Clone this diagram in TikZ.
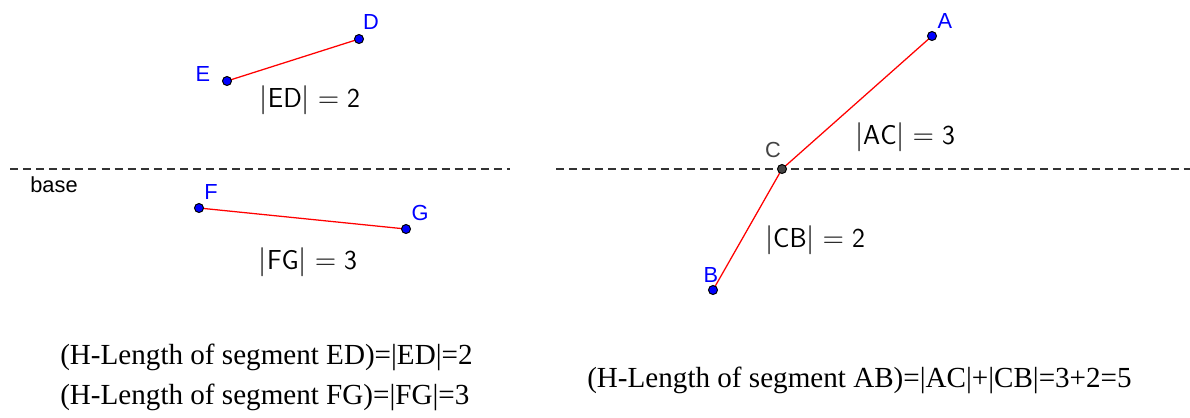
\documentclass[tikz,border=0pt]{standalone}
\usepackage{amsmath, amssymb}
\usepackage{fontspec}
\newfontfamily\ptfont{Liberation Sans}
\newfontfamily\capfont{Liberation Serif}
\usepackage{tikz}
\usetikzlibrary{positioning, backgrounds}
\definecolor{ptblue}{HTML}{0000FF}
\definecolor{segred}{HTML}{FF0000}
\definecolor{basegray}{HTML}{333333}
\definecolor{ptgray}{HTML}{444444}

\tikzset{
    gpoint/.style={circle, fill=ptblue, draw=black, line width=0.7pt, inner sep=0pt, minimum size=6.4pt},
    gname/.style={text=ptblue, font=\ptfont\fontsize{15.5}{18}\selectfont, inner sep=0pt},
    seg/.style={segred, line width=0.9pt},
    baseline/.style={basegray, line width=1pt, dash pattern=on 5.7pt off 3.6pt},
    measure/.style={font=\fontsize{19.5}{23}\selectfont, inner sep=0pt},
    caption/.style={font=\capfont\fontsize{20.7}{24}\selectfont, inner sep=0pt, anchor=base west}
}

\begin{document}
\begin{tikzpicture}[x=0.025cm, y=-0.025cm]
    \useasboundingbox (0,0) rectangle (1190,417);

    \node[gpoint] (pD) at (359,39) {};
    \node[gpoint] (pE) at (227,81) {};
    \node[gpoint] (pF) at (199,208) {};
    \node[gpoint] (pG) at (406,229) {};
    \node[gpoint] (pA) at (932,36) {};
    \node[gpoint, fill=ptgray] (pC) at (782,169) {};
    \node[gpoint] (pB) at (713,290) {};

    \node[gname] (nD) at (371,22) {D};
    \node[gname] (nE) at (203,74) {E};
    \node[gname] (nF) at (211,192) {F};
    \node[gname] (nG) at (420,213) {G};
    \node[gname] (nA) at (945,21) {A};
    \node[gname, text=ptgray] (nC) at (773,150) {C};
    \node[gname] (nB) at (711,275) {B};

    \coordinate (baseL1) at (10,169);
    \coordinate (baseL2) at (510,169);
    \coordinate (baseR1) at (556,169);
    \coordinate (baseR2) at (1190,169);
    \node[font=\ptfont\fontsize{15.5}{18}\selectfont, inner sep=0pt] (baselabel) at (54,185) {base};

    \node[measure] (mED) at (310,100) {$\mathsf{|ED| = 2}$};
    \node[measure] (mFG) at (308,262) {$\mathsf{|FG| = 3}$};
    \node[measure] (mAC) at (905,137) {$\mathsf{|AC| = 3}$};
    \node[measure] (mCB) at (815,240) {$\mathsf{|CB| = 2}$};

    \node[caption] (capED) at (60,364) {(H-Length of segment ED)=|ED|=2};
    \node[caption] (capFG) at (60,404) {(H-Length of segment FG)=|FG|=3};
    \node[caption] (capAB) at (587,387) {(H-Length of segment AB)=|AC|+|CB|=3+2=5};

    \begin{scope}[on background layer]
        \draw[baseline] (baseL1) -- (baseL2);
        \draw[baseline] (baseR1) -- (baseR2);
        \draw[seg] (pE.center) -- (pD.center);
        \draw[seg] (pF.center) -- (pG.center);
        \draw[seg] (pB.center) -- (pC.center) -- (pA.center);
    \end{scope}
\end{tikzpicture}
\end{document}
